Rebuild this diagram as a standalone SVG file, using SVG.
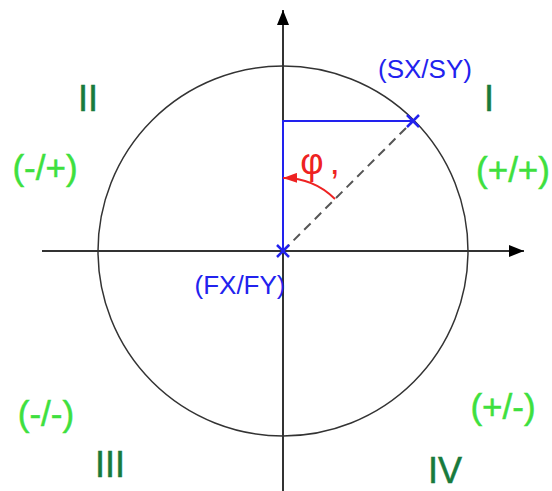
<svg xmlns="http://www.w3.org/2000/svg" width="552" height="491" viewBox="0 0 552 491">
<style>
.axis{stroke:#333;stroke-width:2;fill:none}
.circ{stroke:#333;stroke-width:1.5;fill:none}
.blue{stroke:#2222ee;stroke-width:2;fill:none}
.dash{stroke:#555;stroke-width:2;stroke-dasharray:9 6;fill:none}
.red{stroke:#ee2222;stroke-width:2;fill:none}
text{font-family:"Liberation Sans",Arial,sans-serif;text-anchor:middle}
.rom{fill:#187a3c;stroke:#187a3c;stroke-width:0.5;font-size:36px}
.sign{fill:#3ee03e;stroke:#3ee03e;stroke-width:0.5;font-size:35px}
.lbl{fill:#2222ee;font-size:26px}
</style>
<defs>
<marker id="ah" markerWidth="15" markerHeight="12" refX="15" refY="6" orient="auto" markerUnits="userSpaceOnUse">
<path d="M0,0 L15,6 L0,12 Z" fill="#000"/>
</marker>
<marker id="rh" markerWidth="14" markerHeight="10" refX="14" refY="5" orient="auto" markerUnits="userSpaceOnUse">
<path d="M0,0 L14,5 L0,10 Z" fill="#ee2222"/>
</marker>
</defs>
<g id="connectors">
<line class="axis" x1="42" y1="251" x2="524" y2="251" marker-end="url(#ah)"/>
<line class="axis" x1="283" y1="491" x2="283" y2="10" marker-end="url(#ah)"/>
<line class="dash" x1="283" y1="251" x2="413" y2="121"/>
<polyline class="blue" points="283,251 283,121 413,121"/>
<path class="red" d="M335,199 A73,73 0 0 0 283,178" marker-end="url(#rh)"/>
</g>
<g id="circle"><circle class="circ" cx="283" cy="251" r="185"/></g>
<g id="pointS">
<path d="M407,115 L419,127 M419,115 L407,127" stroke="#2222ee" stroke-width="2.5"/>
<text class="lbl" x="425" y="78">(SX/SY)</text>
</g>
<g id="pointF">
<path d="M277,245 L289,257 M289,245 L277,257" stroke="#2222ee" stroke-width="2.5"/>
<text class="lbl" x="240" y="294">(FX/FY)</text>
</g>
<g id="angle">
<text x="320" y="174" fill="#ee2222" font-size="36">φ<tspan dx="6">,</tspan></text>
</g>
<g id="q1"><text class="rom" x="489" y="111">I</text><text class="sign" x="513" y="182">(+/+)</text></g>
<g id="q2"><text class="rom" x="88" y="111">II</text><text class="sign" x="45" y="180">(-/+)</text></g>
<g id="q3"><text class="rom" x="110" y="477">III</text><text class="sign" x="46" y="426">(-/-)</text></g>
<g id="q4"><text class="rom" x="445" y="483">IV</text><text class="sign" x="503" y="419">(+/-)</text></g>
</svg>
